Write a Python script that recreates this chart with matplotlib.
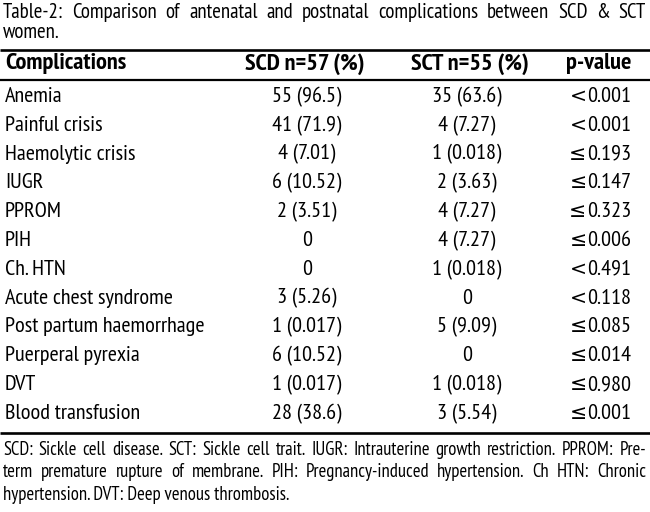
import matplotlib
matplotlib.use("Agg")
import matplotlib.pyplot as plt
from matplotlib import font_manager

# pick a narrow sans, the table is set in a condensed face
names = {f.name for f in font_manager.fontManager.ttflist}
prefer = ["PT Sans Narrow", "Open Sans Condensed", "Fira Sans Condensed", "Roboto Condensed",
          "Archivo Narrow", "Encode Sans Condensed", "Asap Condensed", "IBM Plex Sans Condensed",
          "Ubuntu Condensed", "Sofia Sans Condensed", "Liberation Sans Narrow"]
FONT = next((n for n in prefer if n in names), "DejaVu Sans")
plt.rcParams["font.family"] = [FONT, "DejaVu Sans"]

title_lines = ["Table-2: Comparison of antenatal and postnatal complications between SCD & SCT",
               "women."]
headers = ["Complications", "SCD n=57 (%)", "SCT n=55 (%)", "p-value"]
complications = ["Anemia", "Painful crisis", "Haemolytic crisis", "IUGR", "PPROM", "PIH",
                 "Ch. HTN", "Acute chest syndrome", "Post partum haemorrhage",
                 "Puerperal pyrexia", "DVT", "Blood transfusion"]
scd = ["55 (96.5)", "41 (71.9)", "4 (7.01)", "6 (10.52)", "2 (3.51)", "0", "0",
       "3 (5.26)", "1 (0.017)", "6 (10.52)", "1 (0.017)", "28 (38.6)"]
sct = ["35 (63.6)", "4 (7.27)", "1 (0.018)", "2 (3.63)", "4 (7.27)", "4 (7.27)",
       "1 (0.018)", "0", "5 (9.09)", "0", "1 (0.018)", "3 (5.54)"]
# the source prints "<=" as an underlined "<"
p_sign = ["<", "<", "\u2264", "\u2264", "\u2264", "\u2264",
          "<", "<", "\u2264", "\u2264", "\u2264", "\u2264"]
p_num = ["0.001", "0.001", "0.193", "0.147", "0.323", "0.006",
         "0.491", "0.118", "0.085", "0.014", "0.980", "0.001"]
footnote = ["SCD: Sickle cell disease. SCT: Sickle cell trait. IUGR: Intrauterine growth restriction. PPROM: Pre-",
            "term premature rupture of membrane. PIH: Pregnancy-induced hypertension. Ch HTN: Chronic",
            "hypertension. DVT: Deep venous thrombosis."]

W, H = 650, 512
fig = plt.figure(figsize=(W / 100, H / 100), dpi=100)
ax = fig.add_axes([0, 0, 1, 1])
ax.set_xlim(0, W)
ax.set_ylim(H, 0)
ax.axis("off")
renderer = fig.canvas.get_renderer()


def text_w(s, size, **kw):
    t = ax.text(0, 0, s, fontsize=size, **kw)
    w = t.get_window_extent(renderer).width
    t.remove()
    return w


def fit_size(s, target, cap=20, **kw):
    # font size that makes s about target px wide
    return min(cap, 10 * target / text_w(s, 10, **kw))


def justified(line, y, x0, x1, size, last=False):
    if last:
        ax.text(x0, y, line, fontsize=size, va="center", ha="left")
        return
    words = line.split(" ")
    widths = [text_w(w, size) for w in words]
    gap = (x1 - x0 - sum(widths)) / max(len(words) - 1, 1)
    x = x0
    for w, wd in zip(words, widths):
        ax.text(x, y, w, fontsize=size, va="center", ha="left")
        x += wd + gap


body = fit_size("Post partum haemorrhage", 200)
head = fit_size("Complications", 122, fontweight="bold")
foot = fit_size(footnote[0], 615)
tsize = fit_size(title_lines[0], 600)

# title
justified(title_lines[0], 13, 3, 646, tsize)
justified(title_lines[1], 33, 3, 646, tsize, last=True)

# rules
ax.plot([0, 650], [50, 50], color="black", lw=1.9, solid_capstyle="butt")
ax.plot([0, 650], [80, 80], color="black", lw=1.6, solid_capstyle="butt")

col_x = [5, 307, 467, 631]
ax.text(col_x[0], 64, headers[0], fontsize=head, fontweight="bold", va="center", ha="left")
ax.text(col_x[1] - 2, 64, headers[1], fontsize=head, fontweight="bold", va="center", ha="center")
ax.text(col_x[2] + 3, 64, headers[2], fontsize=head, fontweight="bold", va="center", ha="center")
ax.text(col_x[3], 64, headers[3], fontsize=head, fontweight="bold", va="center", ha="right")

y0, dy = 97, 28.8
for i, name in enumerate(complications):
    y = y0 + i * dy
    ax.text(col_x[0], y, name, fontsize=body, va="baseline", ha="left", transform=ax.transData) \
        .set_y(y + 5)
    ax.text(col_x[1], y + 5, scd[i], fontsize=body, va="baseline", ha="center")
    ax.text(col_x[2], y + 5, sct[i], fontsize=body, va="baseline", ha="center")
    num_w = text_w(p_num[i], body)
    ax.text(col_x[3], y + 5, p_num[i], fontsize=body, va="baseline", ha="right")
    ax.text(col_x[3] - num_w - 0.5, y + 5, p_sign[i], fontsize=body * 0.92, va="baseline",
            ha="right", family=["DejaVu Sans"])

yb = y0 + (len(complications) - 1) * dy + 19
ax.plot([0, 650], [yb, yb], color="black", lw=1.9, solid_capstyle="butt")

for j, line in enumerate(footnote):
    justified(line, yb + 17 + j * 22.5, 3, 646, foot, last=(j == len(footnote) - 1))

fig.savefig("out.png", dpi=100, facecolor="white")
